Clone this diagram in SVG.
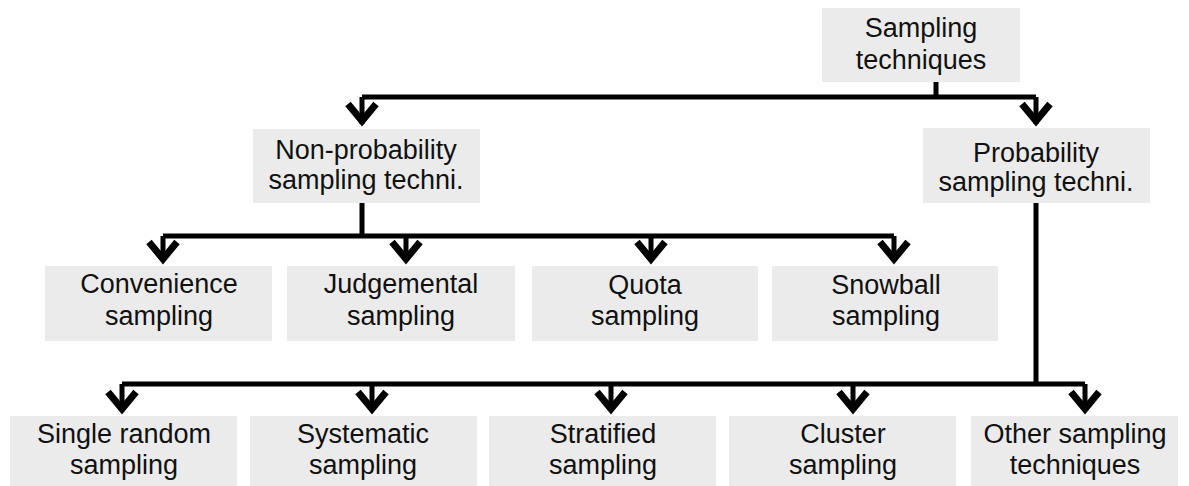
<svg xmlns="http://www.w3.org/2000/svg" width="1189" height="486" viewBox="0 0 1189 486">
<style>
.box{fill:#ebebeb}
.t{font-family:"Liberation Sans",Arial,sans-serif;font-size:27px;fill:#111;text-anchor:middle}
.ln{fill:none;stroke:#000;stroke-width:5}
.ah{fill:none;stroke:#000;stroke-width:7;stroke-linejoin:miter;stroke-miterlimit:10}
</style>
<rect width="1189" height="486" fill="#fff"/>
<g id="connectors">
<path class="ln" d="M936 82V97M362 97H1036M362 97V124M1036 97V124"/>
<path class="ln" d="M362 203V236M163 236H894M163 236V261M406 236V261M651 236V261M894 236V261"/>
<path class="ln" d="M1036 203V384M122 384H1085M122 384V411M372 384V411M611 384V411M853 384V411M1085 384V411"/>
<g class="ah">
<path d="M348 104L362 121L376 104"/>
<path d="M1022 104L1036 121L1050 104"/>
<path d="M149 242L163 259L177 242"/>
<path d="M392 242L406 259L420 242"/>
<path d="M637 242L651 259L665 242"/>
<path d="M880 242L894 259L908 242"/>
<path d="M108 392L122 409L136 392"/>
<path d="M358 392L372 409L386 392"/>
<path d="M597 392L611 409L625 392"/>
<path d="M839 392L853 409L867 392"/>
<path d="M1071 392L1085 409L1099 392"/>
</g>
</g>
<g id="n-root"><rect class="box" x="822" y="8" width="198" height="74"/><text class="t" x="921" y="37">Sampling</text><text class="t" x="921" y="69">techniques</text></g>
<g id="n-nonprob"><rect class="box" x="253" y="129" width="227" height="74"/><text class="t" x="366" y="159">Non-probability</text><text class="t" x="366" y="189">sampling techni.</text></g>
<g id="n-prob"><rect class="box" x="923" y="128" width="227" height="75"/><text class="t" x="1036" y="162">Probability</text><text class="t" x="1036" y="191">sampling techni.</text></g>
<g id="n-convenience"><rect class="box" x="45" y="266" width="227" height="75"/><text class="t" x="159" y="293">Convenience</text><text class="t" x="159" y="325">sampling</text></g>
<g id="n-judgemental"><rect class="box" x="287" y="266" width="228" height="75"/><text class="t" x="401" y="293">Judgemental</text><text class="t" x="401" y="325">sampling</text></g>
<g id="n-quota"><rect class="box" x="532" y="266" width="226" height="75"/><text class="t" x="645" y="294">Quota</text><text class="t" x="645" y="325">sampling</text></g>
<g id="n-snowball"><rect class="box" x="772" y="266" width="226" height="75"/><text class="t" x="886" y="294">Snowball</text><text class="t" x="886" y="325">sampling</text></g>
<g id="n-single"><rect class="box" x="10" y="416" width="227" height="70"/><text class="t" x="124" y="443">Single random</text><text class="t" x="124" y="474">sampling</text></g>
<g id="n-systematic"><rect class="box" x="250" y="416" width="227" height="70"/><text class="t" x="363" y="443">Systematic</text><text class="t" x="363" y="474">sampling</text></g>
<g id="n-stratified"><rect class="box" x="489" y="416" width="227" height="70"/><text class="t" x="603" y="443">Stratified</text><text class="t" x="603" y="474">sampling</text></g>
<g id="n-cluster"><rect class="box" x="729" y="416" width="227" height="70"/><text class="t" x="843" y="443">Cluster</text><text class="t" x="843" y="474">sampling</text></g>
<g id="n-other"><rect class="box" x="971" y="416" width="207" height="70"/><text class="t" x="1075" y="443">Other sampling</text><text class="t" x="1075" y="474">techniques</text></g>
</svg>
